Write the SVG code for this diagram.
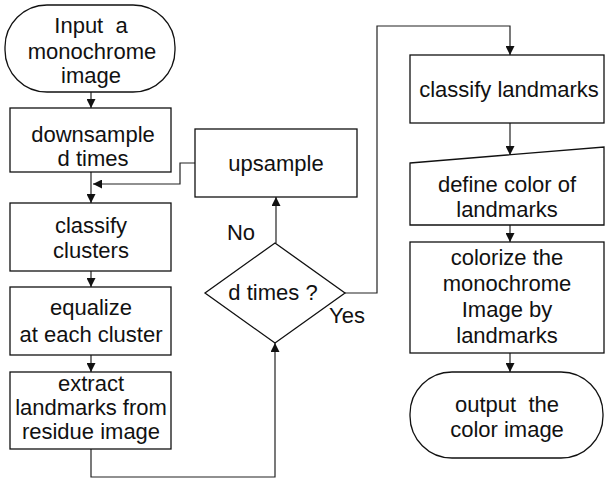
<svg xmlns="http://www.w3.org/2000/svg" width="605" height="478" viewBox="0 0 605 478">
<style>
.s{fill:#fff;stroke:#111;stroke-width:1.3}
.t{font-family:"Liberation Sans",Arial,sans-serif;font-size:22px;fill:#111;text-anchor:middle}
.c{fill:none;stroke:#222;stroke-width:1.2}
</style>
<defs>
<marker id="a" markerUnits="userSpaceOnUse" markerWidth="9" markerHeight="9" viewBox="0 0 9 9" refX="9" refY="4.5" orient="auto">
<path d="M0,0 L9,4.5 L0,9 Z" fill="#111"/>
</marker>
</defs>
<rect width="605" height="478" fill="#fff"/>
<g id="connectors">
<line class="c" x1="91" y1="92" x2="91" y2="108" marker-end="url(#a)"/>
<line class="c" x1="91" y1="172" x2="91" y2="203" marker-end="url(#a)"/>
<polyline class="c" points="195,163 180,163 180,184 93,184" marker-end="url(#a)"/>
<line class="c" x1="91" y1="271" x2="91" y2="287" marker-end="url(#a)"/>
<line class="c" x1="91" y1="355" x2="91" y2="372" marker-end="url(#a)"/>
<polyline class="c" points="91,449 91,477 275,477 275,343" marker-end="url(#a)"/>
<line class="c" x1="276" y1="243" x2="276" y2="197" marker-end="url(#a)"/>
<polyline class="c" points="345,293 377,293 377,26 510,26 510,55" marker-end="url(#a)"/>
<line class="c" x1="510" y1="123" x2="510" y2="155" marker-end="url(#a)"/>
<line class="c" x1="510" y1="225" x2="510" y2="242" marker-end="url(#a)"/>
<line class="c" x1="510" y1="353" x2="510" y2="372" marker-end="url(#a)"/>
</g>
<g id="input">
<rect class="s" x="5" y="5" width="170" height="87" rx="42" ry="42"/>
<text class="t" x="91" y="33" xml:space="preserve">Input  a</text>
<text class="t" x="92" y="59">monochrome</text>
<text class="t" x="91" y="83">image</text>
</g>
<g id="downsample">
<rect class="s" x="10" y="108" width="161" height="64"/>
<text class="t" x="93" y="142">downsample</text>
<text class="t" x="93" y="166">d times</text>
</g>
<g id="classify-clusters">
<rect class="s" x="10" y="203" width="161" height="68"/>
<text class="t" x="91" y="233">classify</text>
<text class="t" x="91" y="258">clusters</text>
</g>
<g id="equalize">
<rect class="s" x="10" y="287" width="161" height="68"/>
<text class="t" x="91" y="315">equalize</text>
<text class="t" x="91" y="342">at each cluster</text>
</g>
<g id="extract">
<rect class="s" x="10" y="372" width="161" height="77"/>
<text class="t" x="91" y="391">extract</text>
<text class="t" x="91" y="415">landmarks from</text>
<text class="t" x="91" y="439">residue image</text>
</g>
<g id="upsample">
<rect class="s" x="195" y="129" width="162" height="68"/>
<text class="t" x="276" y="171">upsample</text>
</g>
<g id="decision">
<polygon class="s" points="275,243 345,293 275,343 205,293"/>
<text class="t" x="273" y="300">d times ?</text>
<text class="t" x="241" y="240">No</text>
<text class="t" x="347" y="323">Yes</text>
</g>
<g id="classify-landmarks">
<rect class="s" x="410" y="55" width="194" height="68"/>
<text class="t" x="509" y="97">classify landmarks</text>
</g>
<g id="define-color">
<polygon class="s" points="410,163 604,147 604,225 410,225"/>
<text class="t" x="507" y="192">define color of</text>
<text class="t" x="507" y="217">landmarks</text>
</g>
<g id="colorize">
<rect class="s" x="410" y="242" width="194" height="111"/>
<text class="t" x="507" y="265">colorize the</text>
<text class="t" x="507" y="291">monochrome</text>
<text class="t" x="507" y="317">Image by</text>
<text class="t" x="507" y="343">landmarks</text>
</g>
<g id="output">
<rect class="s" x="410" y="372" width="193" height="86" rx="42" ry="42"/>
<text class="t" x="507" y="412" xml:space="preserve">output  the</text>
<text class="t" x="507" y="437">color image</text>
</g>
</svg>
